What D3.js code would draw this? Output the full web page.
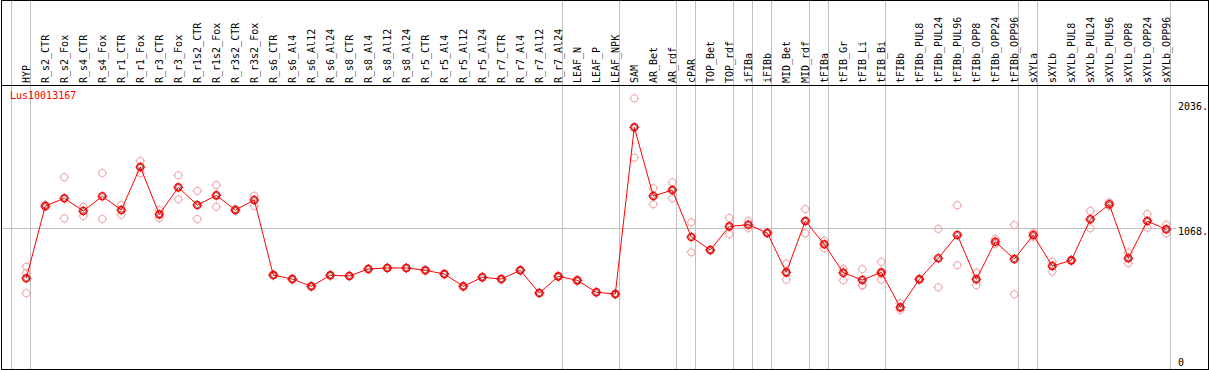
<!DOCTYPE html>
<html>
<head>
<meta charset="utf-8">
<script src="https://cdn.jsdelivr.net/npm/d3@7"></script>
<style>
  body { margin: 0; background: #fff; }
  svg { display: block; }
  text { font-family: "DejaVu Sans Mono", monospace; font-size: 10px; }
</style>
</head>
<body>
<div id="main-chart"></div>
<script>
const width = 1209;
const height = 370;

const geneName = "Lus10013167";

const samples = [
  "HYP", "R_s2_CTR", "R_s2_Fox", "R_s4_CTR", "R_s4_Fox", "R_r1_CTR", "R_r1_Fox",
  "R_r3_CTR", "R_r3_Fox", "R_r1s2_CTR", "R_r1s2_Fox", "R_r3s2_CTR", "R_r3s2_Fox",
  "R_s6_CTR", "R_s6_Al4", "R_s6_Al12", "R_s6_Al24", "R_s8_CTR", "R_s8_Al4", "R_s8_Al12",
  "R_s8_Al24", "R_r5_CTR", "R_r5_Al4", "R_r5_Al12", "R_r5_Al24", "R_r7_CTR", "R_r7_Al4",
  "R_r7_Al12", "R_r7_Al24", "LEAF_N", "LEAF_P", "LEAF_NPK", "SAM", "AR_Bet", "AR_rdf",
  "cPAR", "TOP_Bet", "TOP_rdf", "iFIBa", "iFIBb", "MID_Bet", "MID_rdf", "tFIBa",
  "tFIB_Gr", "tFIB_Li", "tFIB_Bi", "tFIBb", "tFIBb_PUL8", "tFIBb_PUL24", "tFIBb_PUL96",
  "tFIBb_OPP8", "tFIBb_OPP24", "tFIBb_OPP96", "sXYLa", "sXYLb", "sXYLb_PUL8",
  "sXYLb_PUL24", "sXYLb_PUL96", "sXYLb_OPP8", "sXYLb_OPP24", "sXYLb_OPP96"
];

// mean expression per sample
const means = [
  679, 1239, 1298, 1200, 1314, 1208, 1541, 1174, 1383, 1246, 1321, 1208, 1285,
  704, 673, 617, 702, 697, 751, 759, 759, 741, 712, 617, 687, 673, 741, 565, 694,
  663, 571, 557, 1848, 1316, 1362, 999, 898, 1081, 1094, 1030, 725, 1122, 942,
  722, 666, 725, 454, 671, 834, 1014, 671, 962, 828, 1014, 774, 818, 1136, 1252,
  834, 1122, 1058
];

// replicate values per sample
const replicates = [
  [769, 720, 563], [1229, 1249], [1461, 1143], [1233, 1161], [1494, 1138], [1246, 1171],
  [1587, 1492], [1208, 1146], [1476, 1290], [1355, 1138], [1401, 1233], [1215, 1201],
  [1318, 1239], [700, 708], [670, 676], [614, 620], [699, 705], [694, 700], [748, 754],
  [756, 762], [756, 762], [738, 744], [709, 715], [614, 620], [684, 690], [670, 676],
  [738, 744], [562, 568], [691, 697], [660, 666], [568, 574], [554, 560], [2072, 1613],
  [1376, 1252], [1422, 1298], [1112, 880], [895, 901], [1146, 1020], [1122, 1068],
  [1027, 1033], [792, 668], [1215, 1027], [970, 911], [751, 663, 722], [749, 622, 627],
  [805, 668, 710], [485, 434], [668, 674], [1061, 609], [1244, 780], [722, 625],
  [983, 944], [1092, 555], [1032, 999], [807, 730], [815, 821], [1200, 1066],
  [1267, 1239], [877, 795], [1177, 1071], [1094, 1027]
];

// index of the last sample in each group (-1 is the left edge)
const groupEnds = [-1, 0, 28, 31, 34, 35, 37, 38, 39, 41, 42, 45, 52, 53, 60];

const yTicks = [0, 1068, 2036];
const yMax = 2036;

const svg = d3
  .select("#main-chart")
  .append("svg")
  .attr("width", width)
  .attr("height", height);

const x = d3.scaleLinear().domain([0, samples.length - 1]).range([26.3, 1166.3]);
const y = d3.scaleLinear().domain([0, yMax]).range([366, 103]);

const grey = "#c0c0c0";

// group separators
svg
  .append("g")
  .selectAll("line")
  .data(groupEnds)
  .join("line")
  .attr("x1", (d) => Math.round(x(d) + 4) + 0.5)
  .attr("x2", (d) => Math.round(x(d) + 4) + 0.5)
  .attr("y1", 0)
  .attr("y2", 369)
  .attr("stroke", grey)
  .attr("shape-rendering", "crispEdges");

// middle grid line
svg
  .append("line")
  .attr("x1", 1)
  .attr("x2", 1176)
  .attr("y1", Math.round(y(yTicks[1])) + 0.5)
  .attr("y2", Math.round(y(yTicks[1])) + 0.5)
  .attr("stroke", grey)
  .attr("shape-rendering", "crispEdges");

// frame
svg
  .append("rect")
  .attr("x", 1.5)
  .attr("y", 0.5)
  .attr("width", 1206.5)
  .attr("height", 368.5)
  .attr("fill", "none")
  .attr("stroke", "#000")
  .attr("shape-rendering", "crispEdges");

svg
  .append("line")
  .attr("x1", 1)
  .attr("x2", 1208)
  .attr("y1", 85.5)
  .attr("y2", 85.5)
  .attr("stroke", "#000")
  .attr("shape-rendering", "crispEdges");

// sample labels
svg
  .append("g")
  .selectAll("text")
  .data(samples)
  .join("text")
  .attr("transform", (d, i) => `translate(${x(i) + 3.5}, 83) rotate(-90)`)
  .attr("fill", "#000")
  .text((d) => d);

// y labels at the right
const clip = svg.append("clipPath").attr("id", "clip");
clip.append("rect").attr("x", 0).attr("y", 0).attr("width", 1208).attr("height", 369);

svg
  .append("g")
  .attr("clip-path", "url(#clip)")
  .selectAll("text")
  .data(yTicks)
  .join("text")
  .attr("x", 1178)
  .attr("y", (d) => (d === 0 ? y(d) : y(d) + 7))
  .attr("fill", "#000")
  .text((d) => (d === 0 ? "0" : d + "."));

// gene name
svg
  .append("text")
  .attr("x", 10)
  .attr("y", 99)
  .attr("fill", "red")
  .text(geneName);

function marker(g, color, w) {
  g.append("circle").attr("r", 3.6).attr("fill", "none").attr("stroke", color).attr("stroke-width", w);
  g.selectAll(".tick")
    .data([[0, -3.6, 0, -5], [0, 3.6, 0, 5], [-3.6, 0, -5, 0], [3.6, 0, 5, 0]])
    .join("line")
    .attr("x1", (d) => d[0])
    .attr("y1", (d) => d[1])
    .attr("x2", (d) => d[2])
    .attr("y2", (d) => d[3])
    .attr("stroke", color)
    .attr("stroke-width", 0.9);
}

// replicate points
const reps = [];
replicates.forEach((r, i) => r.forEach((v) => reps.push({ i: i, v: v })));

svg
  .append("g")
  .selectAll("g")
  .data(reps)
  .join("g")
  .attr("transform", (d) => `translate(${x(d.i)}, ${y(d.v)})`)
  .each(function () {
    marker(d3.select(this), "#f2a3a3", 1);
  });

// mean line
const line = d3
  .line()
  .x((d, i) => x(i))
  .y((d) => y(d));

svg
  .append("path")
  .datum(means)
  .attr("d", line)
  .attr("fill", "none")
  .attr("stroke", "red")
  .attr("stroke-width", 1);

// mean points
svg
  .append("g")
  .selectAll("g")
  .data(means)
  .join("g")
  .attr("transform", (d, i) => `translate(${x(i)}, ${y(d)})`)
  .each(function () {
    const g = d3.select(this);
    marker(g, "red", 1.4);
    g.append("circle").attr("r", 2.5).attr("fill", "none").attr("stroke", "#700").attr("stroke-width", 0.6);
  });
</script>
</body>
</html>
